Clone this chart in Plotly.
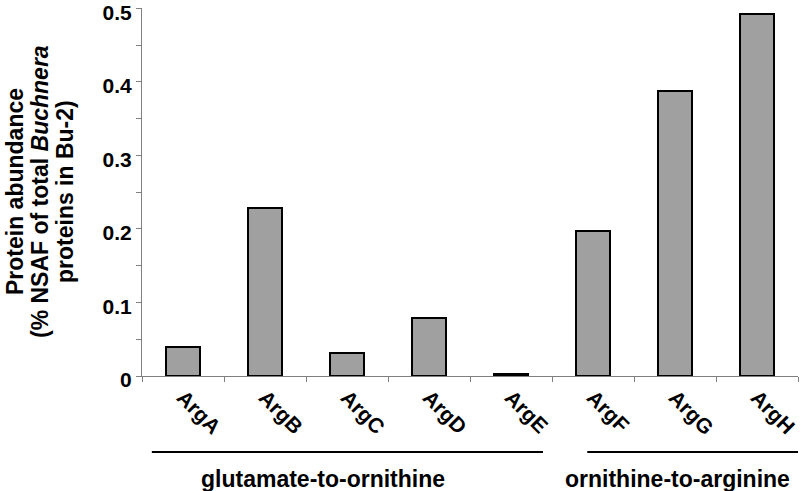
import plotly.graph_objects as go

categories = ["ArgA", "ArgB", "ArgC", "ArgD", "ArgE", "ArgF", "ArgG", "ArgH"]
values = [0.039, 0.228, 0.031, 0.079, 0.003, 0.197, 0.388, 0.492]
groups = [("glutamate-to-ornithine", 0, 4), ("ornithine-to-arginine", 5, 7)]
y_ticks = [0, 0.1, 0.2, 0.3, 0.4, 0.5]
y_tick_labels = ["0", "0.1", "0.2", "0.3", "0.4", "0.5"]
y_title_lines = ["Protein abundance", "(% NSAF of total <i>Buchnera</i>", "proteins in Bu-2)"]

FONT = "Liberation Sans, Arial, sans-serif"
L, R, T, B = 142, 2, 8, 115
W, H = 800, 491
PW = W - L - R
PH = H - T - B

fig = go.Figure()
fig.add_trace(go.Bar(
    x=list(range(len(categories))), y=values,
    width=0.41,
    marker=dict(color="#a0a0a0", line=dict(color="black", width=2)),
))

shapes = []
annotations = []
spans = [(-0.38, 4.39), (4.93, 7.55)]
label_x = [323, 677]
for (name, a, b), (x0, x1), lx in zip(groups, spans, label_x):
    shapes.append(dict(type="line", xref="x", yref="paper", x0=x0, x1=x1,
                       y0=(T + PH - 452) / PH, y1=(T + PH - 452) / PH,
                       line=dict(color="black", width=2)))
    annotations.append(dict(xref="paper", yref="paper", x=(lx - L) / PW,
                            y=(T + PH - 479) / PH, text="<b>%s</b>" % name, showarrow=False,
                            font=dict(size=23, color="black", family=FONT),
                            xanchor="center", yanchor="middle"))

for i, line in enumerate(y_title_lines):
    px = 15 + 25 * i
    annotations.append(dict(xref="paper", yref="paper", x=(px - L) / PW, y=0.5,
                            text="<b>%s</b>" % line, showarrow=False, textangle=-90,
                            font=dict(size=23, color="black", family=FONT),
                            xanchor="center", yanchor="middle"))

fig.update_layout(
    width=W, height=H,
    margin=dict(l=L, r=R, t=T, b=B, autoexpand=False),
    paper_bgcolor="white", plot_bgcolor="white",
    showlegend=False,
    bargap=0,
    font=dict(family=FONT, color="black"),
    shapes=shapes, annotations=annotations,
    xaxis=dict(
        range=[-0.5, 7.5], automargin=False,
        tickmode="array", tickvals=list(range(len(categories))),
        ticktext=["<b>%s</b>" % c for c in categories],
        tickangle=45, tickfont=dict(size=21, color="black", family=FONT),
        ticks="", showgrid=False, zeroline=False, ticklabeloverflow="allow",
        showline=True, linecolor="#808080", linewidth=1,
        minor=dict(tickmode="array", tickvals=[i + 0.5 for i in range(-1, 8)],
                   ticks="outside", ticklen=5, tickcolor="#808080", showgrid=False),
    ),
    yaxis=dict(
        range=[0, 0.5005], automargin=False,
        tickmode="array", tickvals=y_ticks,
        ticktext=["<b>%s</b>" % t for t in y_tick_labels],
        tickfont=dict(size=21, color="black", family=FONT),
        ticks="outside", ticklen=5, tickcolor="#808080", ticklabeloverflow="allow",
        ticklabelshift=4,
        showgrid=False, zeroline=False,
        showline=True, linecolor="#808080", linewidth=1,
        minor=dict(dtick=0.05, ticks="outside", ticklen=5, tickcolor="#808080", showgrid=False),
    ),
)

fig.write_html("out.html", config={"displayModeBar": False},
               post_script="document.body.style.margin='0';document.body.style.overflow='hidden';")
